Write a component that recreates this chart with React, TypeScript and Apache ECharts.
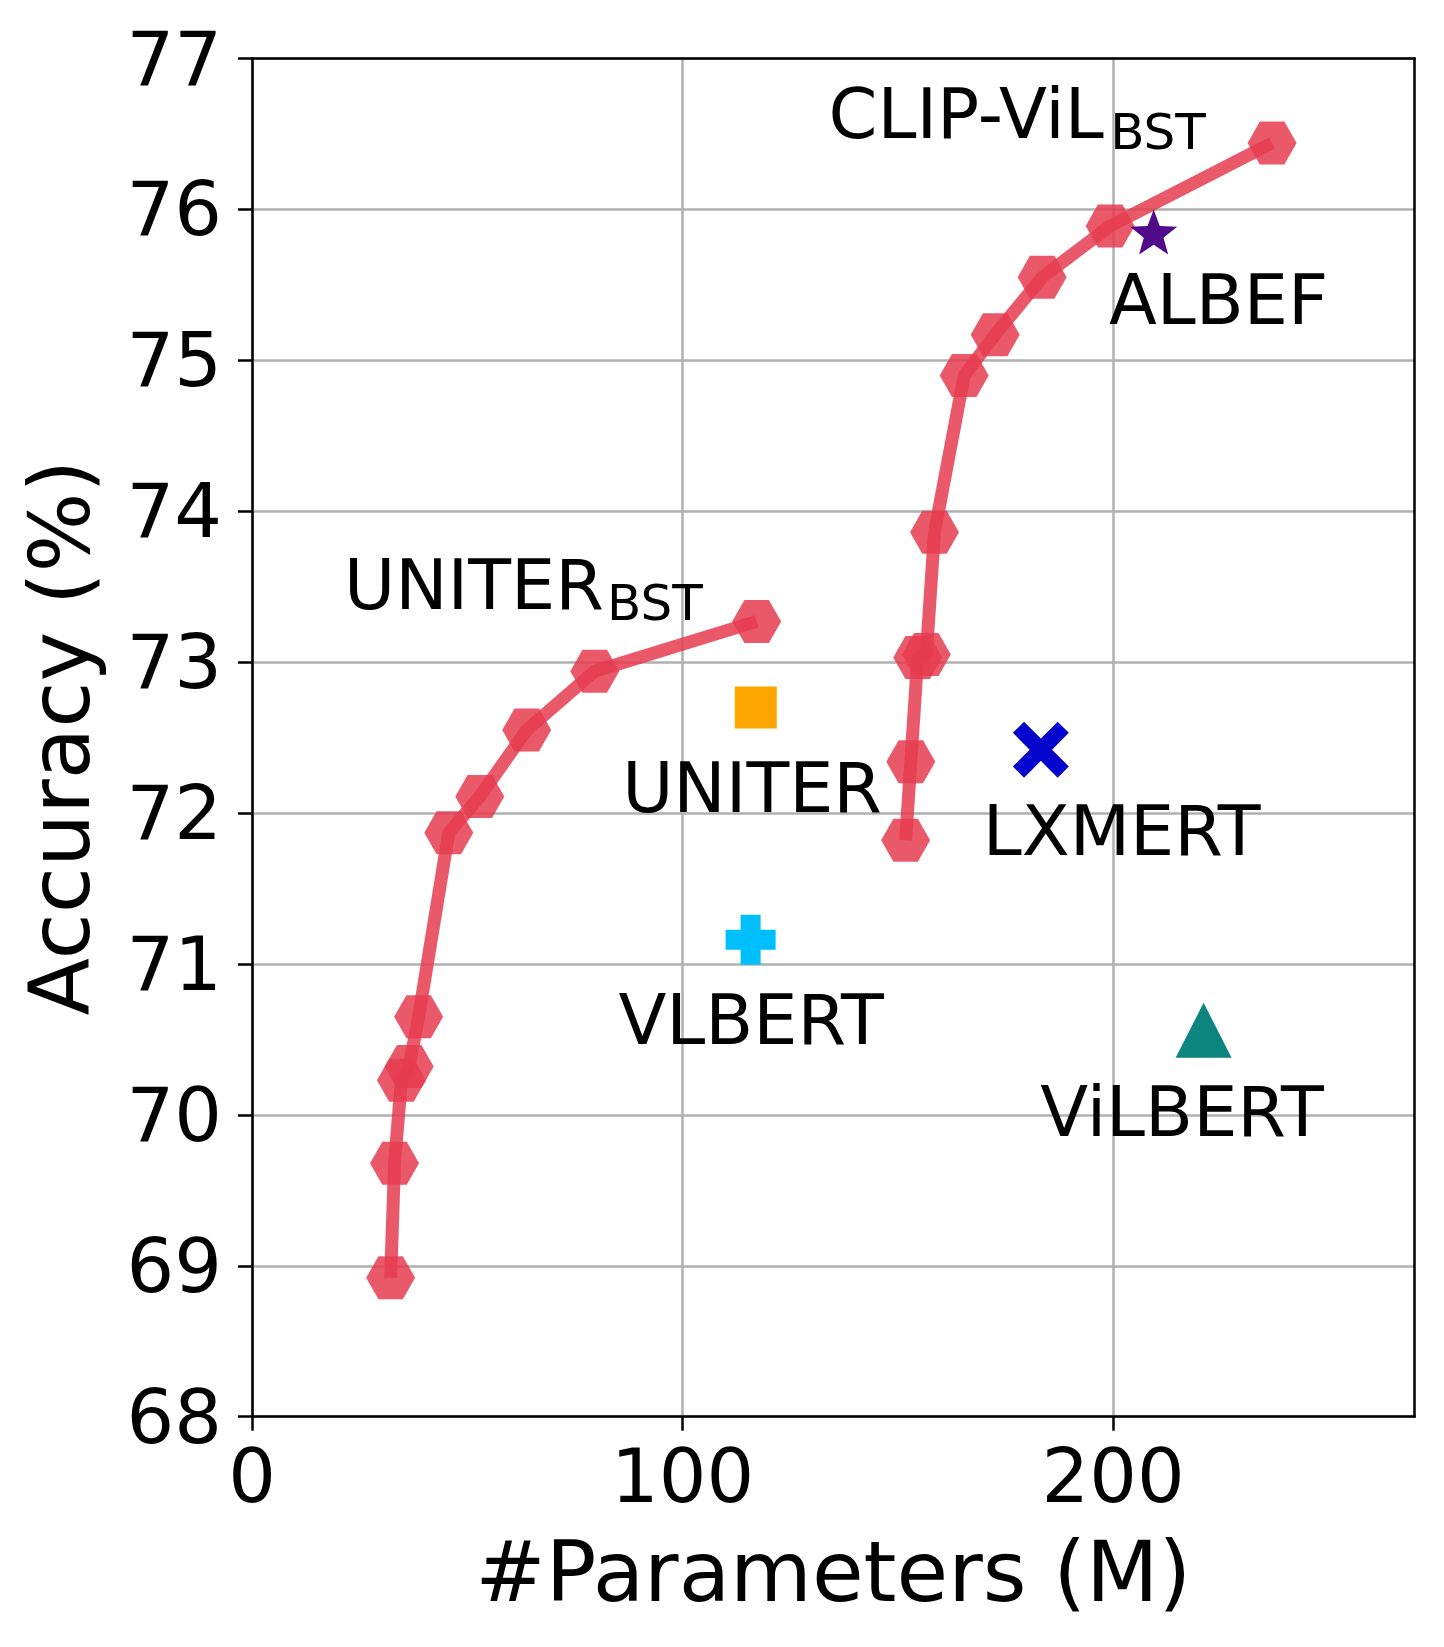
import React, { useEffect, useRef } from 'react';
import * as echarts from 'echarts';

// ---- data ----
const uniterBstParams = [32.2, 33.1, 34.7, 36.5, 38.7, 45.7, 52.9, 63.8, 79.6, 117.2];
const uniterBstAcc = [68.92, 69.68, 70.23, 70.32, 70.65, 71.87, 72.11, 72.55, 72.94, 73.27];

const clipBstParams = [151.8, 153.0, 154.6, 156.6, 158.5, 165.4, 172.6, 183.5, 199.3, 236.9];
const clipBstAcc = [71.82, 72.34, 73.03, 73.05, 73.86, 74.9, 75.17, 75.55, 75.89, 76.44];

const baselineNames = ['UNITER', 'VLBERT', 'LXMERT', 'ViLBERT', 'ALBEF'];
const baselineParams = [117.0, 115.8, 183.2, 221.0, 209.4];
const baselineAcc = [72.7, 71.16, 72.42, 70.56, 75.85];

const xTicks = [0, 100, 200];
const yTicks = [68, 69, 70, 71, 72, 73, 74, 75, 76, 77];

// annotation texts anchored in data coordinates (left edge, vertical middle)
const annotTexts = ['CLIP-ViL', 'BST', 'ALBEF', 'UNITER', 'BST', 'UNITER', 'VLBERT', 'LXMERT', 'ViLBERT'];
const annotX = [133.9, 199.3, 199.0, 21.36, 82.47, 85.96, 85.1, 169.69, 183.08];
const annotY = [76.635, 76.51, 75.403, 73.511, 73.39, 72.169, 70.626, 71.879, 70.021];
const annotIsSub = [false, true, false, false, true, false, false, false, false];

const FONT = 'DejaVu Sans';
const RED = '#e63c50';
const hexPath = 'path://M0 50 L25 0 L75 0 L100 50 L75 100 L25 100 Z';
const plusPath = 'path://M30 0 H70 V30 H100 V70 H70 V100 H30 V70 H0 V30 H30 Z';
const xPath = 'path://M0 20 L20 0 L50 30 L80 0 L100 20 L70 50 L100 80 L80 100 L50 70 L20 100 L0 80 L30 50 Z';
const starPath = (() => {
  const pts: string[] = [];
  for (let i = 0; i < 10; i++) {
    const r = i % 2 === 0 ? 50 : 21;
    const a = -Math.PI / 2 + (i * Math.PI) / 5;
    pts.push(`${(50 + r * Math.cos(a)).toFixed(2)} ${(50 + r * Math.sin(a)).toFixed(2)}`);
  }
  return 'path://M' + pts.join(' L') + ' Z';
})();

const baselineSymbols = ['rect', plusPath, xPath, 'triangle', starPath];
const baselineSizes: (number | number[])[] = [42, 50, 56, [56, 55], [47, 45]];
const baselineColors = ['#ffa500', '#00bfff', '#0505cd', '#0b857e', '#4f0b8a'];

export default function App() {
  const ref = useRef<HTMLDivElement>(null);
  useEffect(() => {
    document.body.style.margin = '0';
    document.body.style.background = '#fff';
    const chart = echarts.init(ref.current!, null, { renderer: 'svg' });
    const lineSeries = (name: string, xs: number[], ys: number[]) => ({
      type: 'line',
      name,
      data: xs.map((x, i) => [x, ys[i]]),
      symbol: hexPath,
      symbolSize: [49, 43],
      symbolKeepAspect: false,
      showSymbol: true,
      lineStyle: { color: RED, width: 13, opacity: 0.85 },
      itemStyle: { color: RED, opacity: 0.85 },
      z: 3,
    });
    const scatterSeries = baselineNames.map((n, i) => ({
      type: 'scatter',
      name: n,
      data: [[baselineParams[i], baselineAcc[i]]],
      symbol: baselineSymbols[i],
      symbolSize: baselineSizes[i],
      symbolKeepAspect: false,
      itemStyle: { color: baselineColors[i], opacity: 1 },
      z: 4,
    }));
    chart.setOption({
      animation: false,
      backgroundColor: '#fff',
      grid: { left: 252, top: 58.5, right: 29.4, bottom: 230.3, show: false },
      xAxis: [
        {
          type: 'value',
          min: 0,
          max: 270,
          interval: 100,
          name: '#Parameters (M)',
          nameLocation: 'middle',
          nameGap: 113,
          nameTextStyle: { fontFamily: FONT, fontSize: 84, color: '#000' },
          axisLine: { show: true, onZero: false, lineStyle: { color: '#000', width: 2.5 } },
          axisTick: { show: true, length: 14, lineStyle: { color: '#000', width: 2.5 }, customValues: xTicks },
          axisLabel: { fontFamily: FONT, fontSize: 75, color: '#000', margin: 22, customValues: xTicks },
          splitLine: { show: true, lineStyle: { color: '#b0b0b0', width: 2.5 } },
        },
        {
          type: 'value',
          position: 'top',
          min: 0,
          max: 270,
          axisLine: { show: true, onZero: false, lineStyle: { color: '#000', width: 2.5 } },
          axisTick: { show: false },
          axisLabel: { show: false },
          splitLine: { show: false },
        },
      ],
      yAxis: [
        {
          type: 'value',
          min: 68,
          max: 77,
          interval: 1,
          name: 'Accuracy (%)',
          nameLocation: 'middle',
          nameGap: 150,
          nameTextStyle: { fontFamily: FONT, fontSize: 84, color: '#000' },
          axisLine: { show: true, onZero: false, lineStyle: { color: '#000', width: 2.5 } },
          axisTick: { show: true, length: 14, lineStyle: { color: '#000', width: 2.5 } },
          axisLabel: { fontFamily: FONT, fontSize: 75, color: '#000', margin: 30, customValues: yTicks },
          splitLine: { show: true, lineStyle: { color: '#b0b0b0', width: 2.5 } },
        },
        {
          type: 'value',
          position: 'right',
          min: 68,
          max: 77,
          axisLine: { show: true, onZero: false, lineStyle: { color: '#000', width: 2.5 } },
          axisTick: { show: false },
          axisLabel: { show: false },
          splitLine: { show: false },
        },
      ],
      series: [
        lineSeries('UNITER_BST', uniterBstParams, uniterBstAcc),
        lineSeries('CLIP-ViL_BST', clipBstParams, clipBstAcc),
        ...scatterSeries,
      ],
    });
    // annotation texts placed through the chart's own axes
    const graphic = annotTexts.map((t, i) => {
      const [px, py] = chart.convertToPixel({ xAxisIndex: 0, yAxisIndex: 0 }, [annotX[i], annotY[i]]) as number[];
      return {
        type: 'text',
        x: px,
        y: py,
        z: 100,
        silent: true,
        style: {
          text: t,
          fill: '#000',
          fontFamily: FONT,
          fontSize: annotIsSub[i] ? 50 : 70,
          align: 'left',
          verticalAlign: 'middle',
        },
      };
    });
    chart.setOption({ graphic });
    return () => chart.dispose();
  }, []);
  return <div ref={ref} style={{ width: 1444, height: 1647 }} />;
}
